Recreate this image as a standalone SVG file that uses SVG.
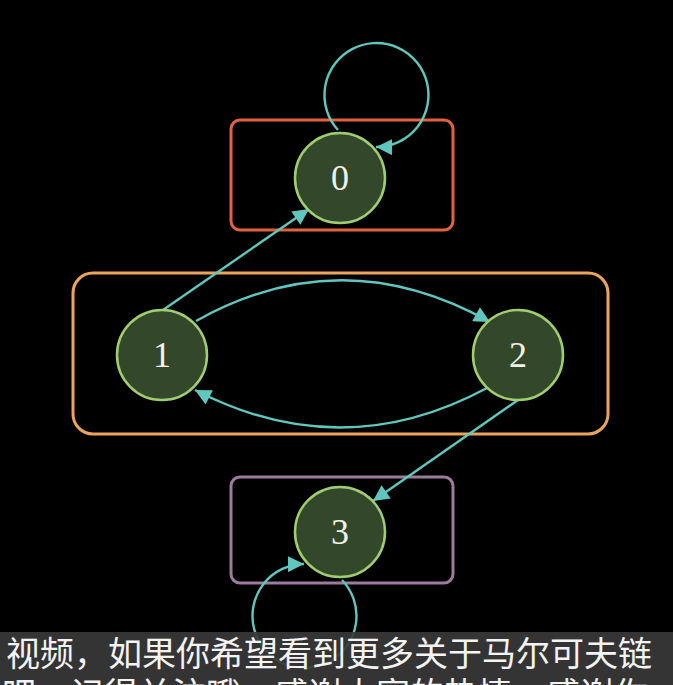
<svg xmlns="http://www.w3.org/2000/svg" width="673" height="685" viewBox="0 0 673 685">
<style>
.node circle{fill:#33482a;stroke:#9fcd70;stroke-width:2.5}
.node text{font-family:"Liberation Serif","DejaVu Serif",serif;font-size:36px;fill:#f2f2ea;text-anchor:middle}
.box{fill:none;stroke-width:3}
.edge{fill:none;stroke:#5fc7be;stroke-width:2.4;marker-end:url(#arr)}
.sub{font-family:"Noto Sans CJK SC","Noto Sans",sans-serif;font-size:34px;fill:#f4f4f4}
</style>
<defs>
<marker id="arr" viewBox="0 0 10 10" refX="10" refY="5" markerWidth="19" markerHeight="16" markerUnits="userSpaceOnUse" orient="auto">
<path d="M0,0 L10,5 L0,10 z" fill="#5fc7be"/>
</marker>
</defs>
<rect width="673" height="685" fill="#000"/>
<g id="groups">
<rect class="box" x="231" y="120" width="222" height="110" rx="9" stroke="#e2623d"/>
<rect class="box" x="73" y="273" width="535" height="161" rx="20" stroke="#eba45c"/>
<rect class="box" x="231" y="477" width="222" height="106" rx="9" stroke="#9c7b9c"/>
</g>
<g id="connectors">
<path class="edge" d="M338 130 A52 52 0 1 1 376 147"/>
<path class="edge" d="M342 580 A52 52 0 1 1 304 564"/>
<path class="edge" d="M163 310 L309 209"/>
<path class="edge" d="M518 400 L373 501"/>
<path class="edge" d="M196 321 Q342 239 490 322"/>
<path class="edge" d="M487 388 Q342 466 195 390"/>
</g>
<g id="node0" class="node"><circle cx="340" cy="178" r="45"/><text x="340" y="190">0</text></g>
<g id="node1" class="node"><circle cx="162" cy="355" r="45"/><text x="162" y="367">1</text></g>
<g id="node2" class="node"><circle cx="518" cy="355" r="45"/><text x="518" y="367">2</text></g>
<g id="node3" class="node"><circle cx="340" cy="532" r="45"/><text x="340" y="544">3</text></g>
<g id="subtitle">
<rect x="0" y="632" width="673" height="53" fill="#383838" fill-opacity="0.92"/>
<text class="sub" x="6" y="666">视频，如果你希望看到更多关于马尔可夫链</text>
<text class="sub" x="2" y="707">吧，记得关注哦，感谢大家的热情，感谢你</text>
</g>
</svg>
